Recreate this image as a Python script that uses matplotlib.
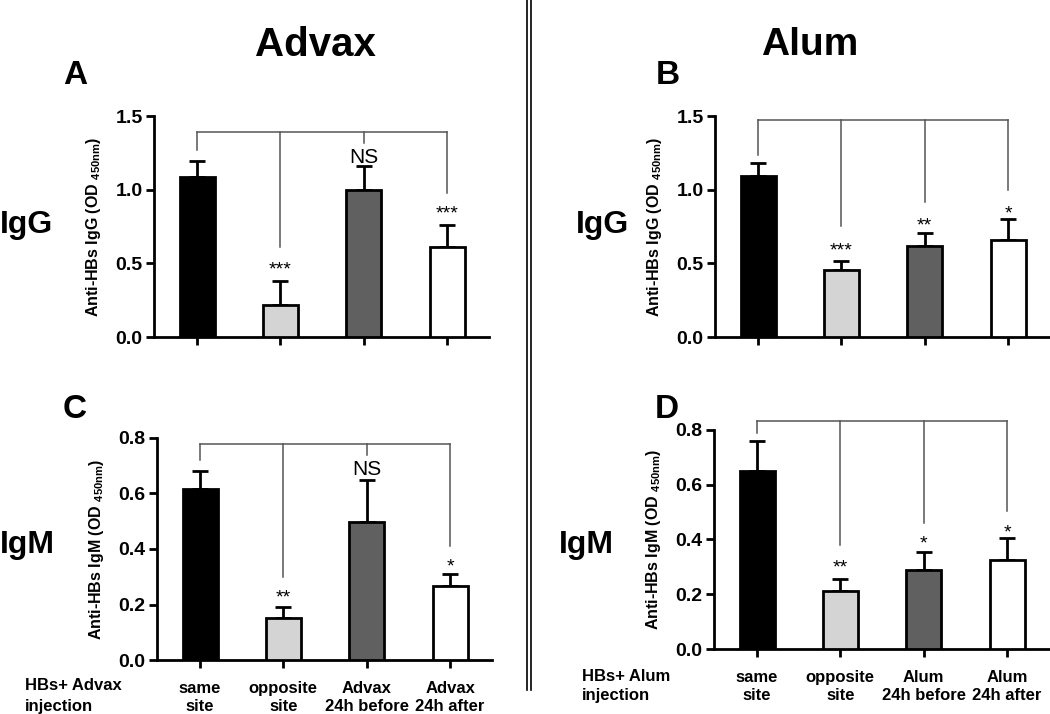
import matplotlib.pyplot as plt
from matplotlib.lines import Line2D

plt.rcParams['font.family'] = ['Liberation Sans', 'DejaVu Sans']
plt.rcParams['mathtext.fontset'] = 'custom'
plt.rcParams['mathtext.bf'] = 'Liberation Sans:bold'
plt.rcParams['mathtext.rm'] = 'Liberation Sans'

advax_groups = ["same\nsite", "opposite\nsite", "Advax\n24h before", "Advax\n24h after"]
alum_groups = ["same\nsite", "opposite\nsite", "Alum\n24h before", "Alum\n24h after"]
bar_colors = ["#000000", "#d4d4d4", "#606060", "#ffffff"]

# means and SEM
igg_advax = [1.09, 0.22, 1.00, 0.615]
igg_advax_sem = [0.105, 0.158, 0.16, 0.149]
igg_alum = [1.098, 0.456, 0.62, 0.66]
igg_alum_sem = [0.082, 0.064, 0.09, 0.14]
igm_advax = [0.617, 0.150, 0.499, 0.265]
igm_advax_sem = [0.063, 0.04, 0.151, 0.044]
igm_alum = [0.65, 0.213, 0.29, 0.326]
igm_alum_sem = [0.111, 0.042, 0.064, 0.081]

# significance marks (group index, label)
sig_a = [(1, "***"), (2, "NS"), (3, "***")]
sig_b = [(1, "***"), (2, "**"), (3, "*")]
sig_c = [(1, "**"), (2, "NS"), (3, "*")]
sig_d = [(1, "**"), (2, "*"), (3, "*")]

fig = plt.figure(figsize=(10.5, 7.14), dpi=100)


def panel(rect, vals, sem, ymax, yticks, ylabel, bracket_top, drops, sigs, sig_y, groups=None):
    ax = fig.add_axes(rect)
    x = range(len(vals))
    ax.bar(x, vals, width=0.42, color=bar_colors, edgecolor="black", linewidth=2, zorder=3)
    ax.errorbar(x, vals, yerr=[[0] * len(sem), sem], fmt="none", ecolor="black",
                elinewidth=2, capsize=6, capthick=2, zorder=2)
    ax.set_xlim(-0.52, 3.5)
    ax.set_ylim(0, ymax)
    ax.set_yticks(yticks)
    ax.set_yticklabels([f"{t:.1f}" for t in yticks], fontsize=14, fontweight="bold")
    ax.set_xticks(list(x))
    if groups:
        ax.set_xticklabels(groups, fontsize=12, fontweight="bold", linespacing=1.3)
    else:
        ax.set_xticklabels([])
    ax.spines["top"].set_visible(False)
    ax.spines["right"].set_visible(False)
    ax.spines["left"].set_linewidth(2)
    ax.spines["bottom"].set_linewidth(2)
    ax.tick_params(axis="y", width=2, length=6, direction="out", pad=2)
    ax.tick_params(axis="x", width=2, length=6, direction="out", pad=9)
    ax.set_ylabel(ylabel, fontsize=11.5, fontweight="bold")
    ax.yaxis.set_label_coords(-0.152, 0.5)

    # comparison bracket
    ax.add_line(Line2D([0, 3], [bracket_top, bracket_top], color="#555555", lw=1.1, clip_on=False))
    for i, d in enumerate(drops):
        ax.add_line(Line2D([i, i], [bracket_top, d], color="#555555", lw=1.1, clip_on=False))
    for (i, s), y in zip(sigs, sig_y):
        fs = 15 if s == "NS" else 14
        ax.text(i, y, s, ha="center", va="center", fontsize=fs, clip_on=False)
    return ax


w = 335 / 1050
panel([153.7 / 1050, 0.528, w, 0.309], igg_advax, igg_advax_sem, 1.5, [0, 0.5, 1.0, 1.5],
      r"Anti-HBs IgG (OD $_{\mathbf{450nm}}$)", 1.395, [1.27, 0.612, 1.32, 0.98],
      sig_a, [0.455, 1.22, 0.835])
panel([714.7 / 1050, 0.528, w, 0.309], igg_alum, igg_alum_sem, 1.5, [0, 0.5, 1.0, 1.5],
      r"Anti-HBs IgG (OD $_{\mathbf{450nm}}$)", 1.473, [1.235, 0.755, 0.92, 1.0],
      sig_b, [0.585, 0.755, 0.835])
panel([156.7 / 1050, 0.0756, w, 0.311], igm_advax, igm_advax_sem, 0.8, [0, 0.2, 0.4, 0.6, 0.8],
      r"Anti-HBs IgM (OD $_{\mathbf{450nm}}$)", 0.78, [0.72, 0.30, 0.74, 0.41],
      sig_c, [0.225, 0.686, 0.335], advax_groups)
panel([713.7 / 1050, 0.091, w, 0.307], igm_alum, igm_alum_sem, 0.8, [0, 0.2, 0.4, 0.6, 0.8],
      r"Anti-HBs IgM (OD $_{\mathbf{450nm}}$)", 0.833, [0.788, 0.38, 0.46, 0.502],
      sig_d, [0.295, 0.385, 0.425], alum_groups)

# titles, panel letters, row labels
fig.text(315 / 1050, 1 - 45 / 714, "Advax", fontsize=29, fontweight="bold", ha="center", va="center")
fig.text(810 / 1050, 1 - 45 / 714, "Alum", fontsize=28, fontweight="bold", ha="center", va="center")
for lbl, xx, yy in [("A", 75, 76), ("B", 668, 76), ("C", 75, 410), ("D", 667, 410)]:
    fig.text(xx / 1050, 1 - yy / 714, lbl, fontsize=24, fontweight="bold", ha="center", va="center")
for lbl, xx, yy in [("IgG", 27, 225), ("IgG", 603, 225), ("IgM", 27, 545), ("IgM", 586, 545)]:
    fig.text(xx / 1050, 1 - yy / 714, lbl, fontsize=23, fontweight="bold", ha="center", va="center")
fig.text(25 / 1050, 1 - 696 / 714, "HBs+ Advax\ninjection", fontsize=12, fontweight="bold",
         ha="left", va="center", linespacing=1.45)
fig.text(582 / 1050, 1 - 686 / 714, "HBs+ Alum\ninjection", fontsize=12, fontweight="bold",
         ha="left", va="center", linespacing=1.3)

# double vertical separator
for xx in (527, 531):
    fig.add_artist(Line2D([xx / 1050, xx / 1050], [1 - 690 / 714, 1.0], color="black", lw=1.2))

fig.savefig("out.png", dpi=100)
